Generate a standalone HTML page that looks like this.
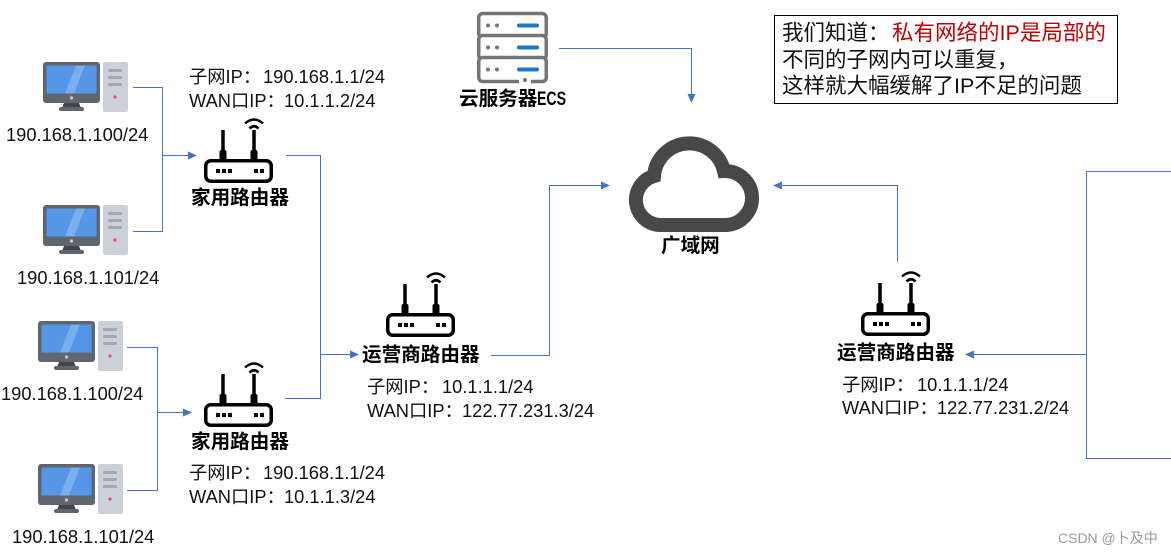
<!DOCTYPE html>
<html><head><meta charset="utf-8"><style>
html,body{margin:0;padding:0;background:#fff}
svg{display:block}
text{font-family:"Liberation Sans","Noto Sans CJK SC",sans-serif;font-size:18.3px;fill:#111}
.b{font-weight:bold;font-size:19.6px;fill:#000}
.n{font-size:21.5px}
</style></head><body>
<svg width="1171" height="554" viewBox="0 0 1171 554" xmlns="http://www.w3.org/2000/svg">
<defs>
<g id="pc">
<rect x="0" y="0" width="57" height="41" rx="3" fill="#5f6670"/>
<rect x="3.500" y="3.500" width="50" height="28" fill="#5596e6"/>
<polygon points="22,31.500 33,3.500 42,3.500 31,31.500" fill="#7aaeec"/>
<circle cx="28.500" cy="36" r="1.600" fill="#c8ccd2"/>
<polygon points="21,41 36,41 38,46 19,46" fill="#3f4650"/>
<rect x="16" y="45" width="25" height="4" rx="2" fill="#5f6670"/>
<rect x="60" y="0" width="25" height="50" rx="2" fill="#ccd0d9"/>
<rect x="65" y="7" width="14" height="3" rx="1.500" fill="#a3a8b0"/>
<rect x="65" y="14" width="14" height="3" rx="1.500" fill="#a3a8b0"/>
<rect x="65" y="21" width="14" height="3" rx="1.500" fill="#a3a8b0"/>
<circle cx="72" cy="35" r="1.600" fill="#e9505f"/>
</g>
<g id="rt">
<rect x="1.750" y="43.750" width="65.500" height="20.500" rx="5" fill="#fff" stroke="#000" stroke-width="3.500"/>
<rect x="17.250" y="13" width="3.500" height="22" fill="#000"/>
<rect x="48.250" y="13" width="3.500" height="22" fill="#000"/>
<rect x="15.500" y="33" width="7" height="11" rx="2" fill="#000"/>
<rect x="46.500" y="33" width="7" height="11" rx="2" fill="#000"/>
<rect x="12" y="52" width="4" height="4" fill="#000"/><rect x="18" y="52" width="4" height="4" fill="#000"/><rect x="24" y="52" width="4" height="4" fill="#000"/>
<rect x="50" y="52" width="4" height="4" fill="#000"/><rect x="56" y="52" width="4" height="4" fill="#000"/>
<path d="M41 6.500 Q50 -1.500 59 6.500" fill="none" stroke="#000" stroke-width="2.500"/>
<path d="M45.500 11.500 Q50 7 54.500 11.500" fill="none" stroke="#000" stroke-width="2.500"/>
</g>
<g id="srvrow">
<rect x="1.750" y="0" width="67.500" height="24" rx="4" fill="#fff" stroke="#757575" stroke-width="3.500"/>
<circle cx="11" cy="12" r="2" fill="#757575"/><circle cx="20" cy="12" r="2" fill="#757575"/>
<rect x="40" y="10" width="22" height="4" rx="2" fill="#1a78c8"/>
</g>
<marker id="a" markerWidth="9" markerHeight="8" refX="8" refY="4" orient="auto" markerUnits="userSpaceOnUse"><path d="M0 0L9 4L0 8z" fill="#4472c4"/></marker>
</defs>

<!-- computers -->
<use href="#pc" x="43" y="62"/>
<use href="#pc" x="43" y="205"/>
<use href="#pc" x="38" y="321"/>
<use href="#pc" x="38" y="464"/>

<!-- routers -->
<use href="#rt" x="204" y="117"/>
<use href="#rt" x="204" y="361"/>
<use href="#rt" x="386" y="271"/>
<use href="#rt" x="861" y="270"/>

<!-- server -->
<use href="#srvrow" x="477" y="13.500"/>
<use href="#srvrow" x="477" y="35.500"/>
<use href="#srvrow" x="477" y="57.500"/>
<rect x="519" y="78" width="12" height="7" fill="#fff"/>
<circle cx="525" cy="80" r="2" fill="#757575"/>

<!-- cloud -->
<path d="M660 225 H726 A27 27 0 0 0 724 171 A35.500 35.500 0 0 0 654 176 A25 25 0 0 0 660 225 Z" fill="#fff" stroke="#484848" stroke-width="14" stroke-linejoin="miter"/>

<!-- connectors -->
<g fill="none" stroke="#4472c4" stroke-width="1">
<path d="M133 87.500H162.500V231.500H133"/>
<path d="M162.500 155.500H196" marker-end="url(#a)"/>
<path d="M286 155.500H320.500V398.500H285"/>
<path d="M320.500 354.500H358" marker-end="url(#a)"/>
<path d="M491 355.500H549.500V185.500H609" marker-end="url(#a)"/>
<path d="M559 48.500H691.500V102" marker-end="url(#a)"/>
<path d="M897.500 262V185.500H774" marker-end="url(#a)"/>
<path d="M127 347.500H157.500V490.500H127"/>
<path d="M157.500 412.500H191" marker-end="url(#a)"/>
<path d="M1171 171.500H1086.500V458.500H1171"/>
<path d="M1086.500 354.500H966" marker-end="url(#a)"/>
</g>

<!-- note box -->
<rect x="774.500" y="15.500" width="343" height="88" fill="#fff" stroke="#000" stroke-width="1"/>
<text class="n" x="782" y="40">我们知道：</text>
<text class="n" x="892" y="40" style="fill:#c00000">私有网络的IP是局部的</text>
<text class="n" x="782" y="67">不同的子网内可以重复，</text>
<text class="n" x="782" y="93">这样就大幅缓解了IP不足的问题</text>

<!-- labels -->
<text x="6" y="141">190.168.1.100/24</text>
<text x="17" y="284">190.168.1.101/24</text>
<text x="1" y="400">190.168.1.100/24</text>
<text x="12" y="543">190.168.1.101/24</text>

<text x="189" y="83">子网IP：</text><text x="263" y="83">190.168.1.1/24</text>
<text x="189" y="107">WAN口IP：</text><text x="284" y="107">10.1.1.2/24</text>
<text class="b" x="191" y="204">家用路由器</text>

<text class="b" x="191" y="448">家用路由器</text>
<text x="189" y="479">子网IP：</text><text x="263" y="479">190.168.1.1/24</text>
<text x="189" y="503">WAN口IP：</text><text x="284" y="503">10.1.1.3/24</text>

<text class="b" x="362" y="361">运营商路由器</text>
<text x="367" y="393">子网IP：</text><text x="442" y="393">10.1.1.1/24</text>
<text x="367" y="417">WAN口IP：</text><text x="462" y="417">122.77.231.3/24</text>

<text class="b" x="837" y="359">运营商路由器</text>
<text x="842" y="391">子网IP：</text><text x="917" y="391">10.1.1.1/24</text>
<text x="842" y="414">WAN口IP：</text><text x="937" y="414">122.77.231.2/24</text>

<text class="b" x="459" y="105">云服务器</text><text class="b" x="537" y="105" textLength="29" lengthAdjust="spacingAndGlyphs">ECS</text>
<text class="b" x="661" y="252">广域网</text>

<text x="1058" y="543" style="font-size:14px;fill:#9a9a9a">CSDN @卜及中</text>
</svg>
</body></html>
